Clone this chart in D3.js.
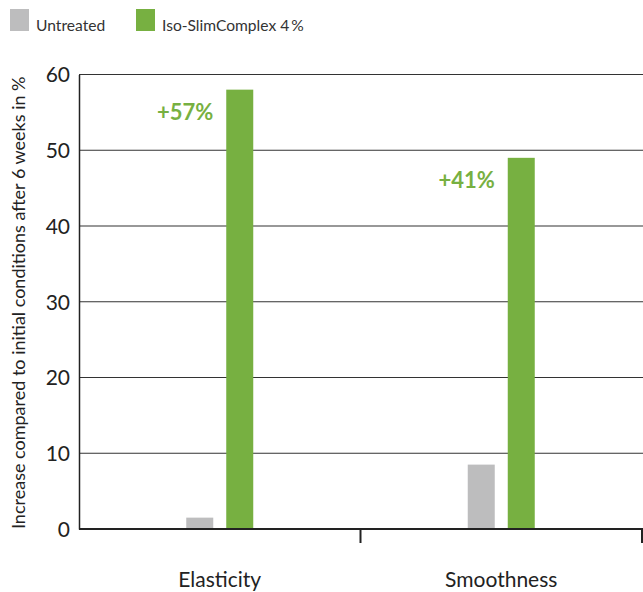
<!DOCTYPE html>
<html>
<head>
<meta charset="utf-8">
<script src="https://cdn.jsdelivr.net/npm/d3@7/dist/d3.min.js"></script>
<style>
body { margin: 0; background: #fff; }
svg { display: block; }
text { font-family: Lato, "Open Sans", sans-serif; }
</style>
</head>
<body>
<svg id="chart" width="643" height="592"></svg>
<script>
const categories = ["Elasticity", "Smoothness"];
const seriesNames = ["Untreated", "Iso-SlimComplex 4\u2009%"];
const untreated = [1.5, 8.5];
const isoSlim = [58, 49];
const increaseLabels = ["+57%", "+41%"];
const yTicks = [0, 10, 20, 30, 40, 50, 60];
const yTitle = "Increase compared to initial conditions after 6 weeks in %";
const colors = ["#bdbdbe", "#77b041"];

const svg = d3.select("#chart");
const margin = { left: 79, right: 1, top: 74.5, bottom: 63 };
const W = 643, H = 592;
const x = d3.scaleBand().domain(categories).range([margin.left, W - margin.right]);
const y = d3.scaleLinear().domain([0, 60]).range([H - margin.bottom, margin.top]);
const sub = d3.scaleBand().domain([0, 1]).range([-33.5, 33.5]).paddingInner(0.325).paddingOuter(0);

// gridlines
svg.append("g").selectAll("line").data(yTicks.filter(d => d > 0)).join("line")
  .attr("x1", margin.left).attr("x2", W)
  .attr("y1", d => y(d)).attr("y2", d => y(d))
  .attr("stroke", "#333").attr("stroke-width", 1.2);

// bars
const series = [untreated, isoSlim];
series.forEach((vals, si) => {
  svg.append("g").selectAll("rect").data(vals).join("rect")
    .attr("x", (d, i) => x(categories[i]) + x.bandwidth() / 2 + sub(si))
    .attr("width", sub.bandwidth())
    .attr("y", d => y(d))
    .attr("height", d => y(0) - y(d))
    .attr("fill", colors[si]);
});

// increase labels
svg.append("g").selectAll("text").data(increaseLabels).join("text")
  .attr("x", (d, i) => x(categories[i]) + x.bandwidth() / 2 + sub(1) - 13)
  .attr("y", (d, i) => y(isoSlim[i]) + 30)
  .attr("text-anchor", "end")
  .attr("font-size", 22).attr("font-weight", "bold")
  .attr("fill", colors[1])
  .text(d => d);

// y axis
const yAxis = d3.axisLeft(y).tickValues(yTicks).tickSize(0).tickPadding(9);
const gy = svg.append("g").attr("transform", `translate(${margin.left},0)`).call(yAxis);
gy.select(".domain").attr("stroke", "#222").attr("stroke-width", 1.5);
gy.selectAll("text").attr("font-size", 21).attr("fill", "#222")
  .attr("font-family", "Lato, sans-serif").attr("dy", "0.35em");

// x axis
const gx = svg.append("g").attr("transform", `translate(0,${y(0)})`);
gx.append("line").attr("x1", margin.left).attr("x2", W)
  .attr("stroke", "#222").attr("stroke-width", 2);
gx.selectAll("line.tick").data(categories).join("line").attr("class", "tick")
  .attr("x1", d => x(d) + x.bandwidth()).attr("x2", d => x(d) + x.bandwidth())
  .attr("y1", 0).attr("y2", 14).attr("stroke", "#222").attr("stroke-width", 2);
gx.selectAll("text").data(categories).join("text")
  .attr("x", d => x(d) + x.bandwidth() / 2).attr("y", 58)
  .attr("text-anchor", "middle").attr("font-size", 21).attr("fill", "#222")
  .text(d => d);

// y title
svg.append("text")
  .attr("transform", `translate(25,${(margin.top + y(0)) / 2 + 1}) rotate(-90)`)
  .attr("text-anchor", "middle").attr("font-size", 18).attr("fill", "#222")
  .text(yTitle);

// legend
const legX = [10, 136];
const leg = svg.append("g");
seriesNames.forEach((n, i) => {
  leg.append("rect").attr("x", legX[i]).attr("y", 9).attr("width", 19).attr("height", 22).attr("fill", colors[i]);
  leg.append("text").attr("x", legX[i] + 26).attr("y", 31).attr("font-size", 15.6).attr("fill", "#333").text(n);
});
</script>
</body>
</html>
